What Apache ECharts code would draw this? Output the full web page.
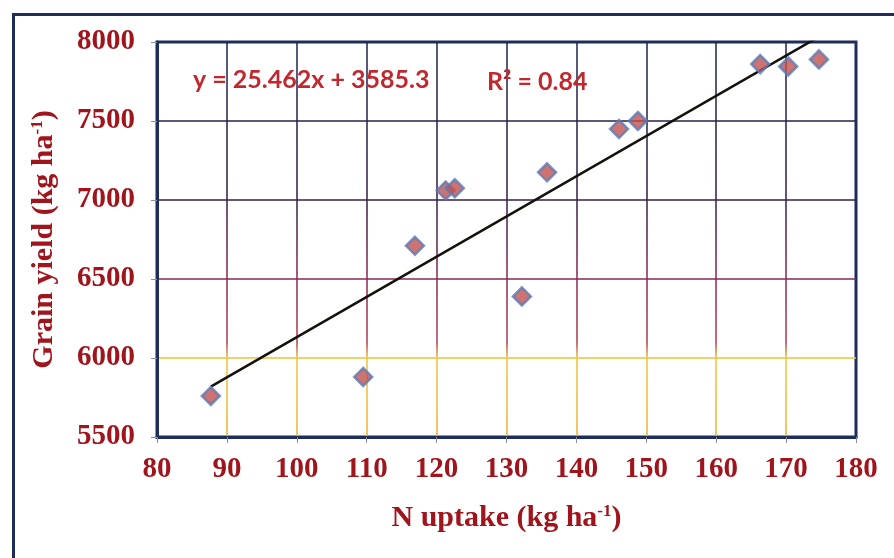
<!DOCTYPE html>
<html>
<head>
<meta charset="utf-8">
<script src="https://cdn.jsdelivr.net/npm/echarts@6/dist/echarts.min.js"></script>
<style>
  html, body { margin: 0; padding: 0; background: #fff; }
  #n-uptake-yield { width: 894px; height: 558px; }
</style>
</head>
<body>
<div id="n-uptake-yield"></div>
<script>
// N uptake (x) vs grain yield (y)
var nUptake = [87.7, 109.5, 116.9, 121.3, 122.6, 132.2, 135.8, 146.1, 148.8, 166.3, 170.3, 174.7];
var grainYield = [5760, 5880, 6710, 7060, 7075, 6390, 7175, 7450, 7500, 7860, 7845, 7890];
var xTicks = [80, 90, 100, 110, 120, 130, 140, 150, 160, 170, 180];
var yTicks = [5500, 6000, 6500, 7000, 7500, 8000];
var slope = 25.462;
var intercept = 3585.3;
var rSquared = 0.84;

var labelRed = "#a0141c";
var navy = "#1f2d5c";

var points = [];
for (var i = 0; i < nUptake.length; i++) {
  points.push([nUptake[i], grainYield[i]]);
}
var xMin = Math.min.apply(null, nUptake);
var xMax = Math.max.apply(null, nUptake);
var trend = [
  [xMin, slope * xMin + intercept],
  [xMax, slope * xMax + intercept]
];

// grid lines go from navy at the top to purple then yellow at the bottom
var gridColor = new echarts.graphic.LinearGradient(0, 42, 0, 437, [
  { offset: 0, color: "#1b2450" },
  { offset: 0.38, color: "#2e1c46" },
  { offset: 0.6, color: "#8a2850" },
  { offset: 0.76, color: "#b0384e" },
  { offset: 0.8, color: "#f0c23a" },
  { offset: 1, color: "#f0b030" }
], true);

var nameRich = {
  sup: {
    fontSize: 17,
    fontWeight: "bold",
    fontFamily: "Liberation Serif",
    color: labelRed,
    verticalAlign: "top",
    lineHeight: 30
  }
};

var chart = echarts.init(document.getElementById("n-uptake-yield"));
var option = {
  backgroundColor: "#fff",
  animation: false,
  grid: {
    left: 157,
    right: 38,
    top: 42,
    bottom: 121,
    show: true,
    borderColor: navy,
    borderWidth: 3,
    backgroundColor: "#fff"
  },
  graphic: [
    {
      type: "rect",
      left: 11,
      top: 12,
      shape: { width: 900, height: 600 },
      style: { fill: "none", stroke: navy, lineWidth: 3 },
      z: 0
    },
    {
      type: "text",
      left: 193,
      top: 67,
      style: {
        text: "y = " + slope + "x + " + intercept,
        font: "bold 25px Lato",
        fill: "#c0282e"
      },
      z: 10
    },
    {
      type: "text",
      left: 487,
      top: 69,
      style: {
        text: "R\u00b2 = " + rSquared,
        font: "bold 25px Lato",
        fill: "#c0282e"
      },
      z: 10
    }
  ],
  xAxis: {
    type: "value",
    min: xTicks[0],
    max: xTicks[xTicks.length - 1],
    interval: 10,
    name: "{m|N uptake (kg ha}{sup|-1}{m|)}",
    nameLocation: "middle",
    nameGap: 66,
    nameTextStyle: {
      rich: Object.assign({
        m: { fontSize: 30, fontWeight: "bold", fontFamily: "Liberation Serif", color: labelRed, lineHeight: 30 }
      }, nameRich)
    },
    axisLine: { show: true, lineStyle: { color: navy, width: 3 } },
    axisTick: { show: true, length: 6, lineStyle: { color: "#8a8f99", width: 1 } },
    axisLabel: {
      margin: 18,
      color: labelRed,
      fontSize: 29,
      fontWeight: "bold",
      fontFamily: "Liberation Serif"
    },
    splitLine: { show: true, showMinLine: false, showMaxLine: false, lineStyle: { color: gridColor, width: 1.5 } }
  },
  yAxis: {
    type: "value",
    min: yTicks[0],
    max: yTicks[yTicks.length - 1],
    interval: 500,
    name: "{m|Grain yield (kg ha}{sup|-1}{m|)}",
    nameLocation: "middle",
    nameGap: 98,
    nameRotate: 90,
    nameTextStyle: {
      rich: Object.assign({
        m: { fontSize: 30, fontWeight: "bold", fontFamily: "Liberation Serif", color: labelRed, lineHeight: 30 }
      }, nameRich)
    },
    axisLine: { show: true, lineStyle: { color: navy, width: 3 } },
    axisTick: { show: true, length: 6, lineStyle: { color: "#8a8f99", width: 1 } },
    axisLabel: {
      margin: 22,
      color: labelRed,
      fontSize: 29,
      fontWeight: "bold",
      fontFamily: "Liberation Serif",
      formatter: function(val) {
        return String(val);
      }
    },
    splitLine: { show: true, showMinLine: false, showMaxLine: false, lineStyle: { color: gridColor, width: 1.5 } }
  },
  series: [
    {
      name: "trend",
      type: "line",
      data: trend,
      symbol: "none",
      clip: true,
      lineStyle: { color: "#14100a", width: 2.5 },
      z: 3
    },
    {
      name: "Grain yield",
      type: "scatter",
      data: points,
      symbol: "diamond",
      symbolSize: 18,
      itemStyle: {
        color: "#c0504d",
        borderColor: "#5a7cb8",
        borderWidth: 2.5
      },
      z: 4
    }
  ]
};
chart.setOption(option);
window.addEventListener("resize", function() {
  chart.resize();
});
</script>
</body>
</html>
